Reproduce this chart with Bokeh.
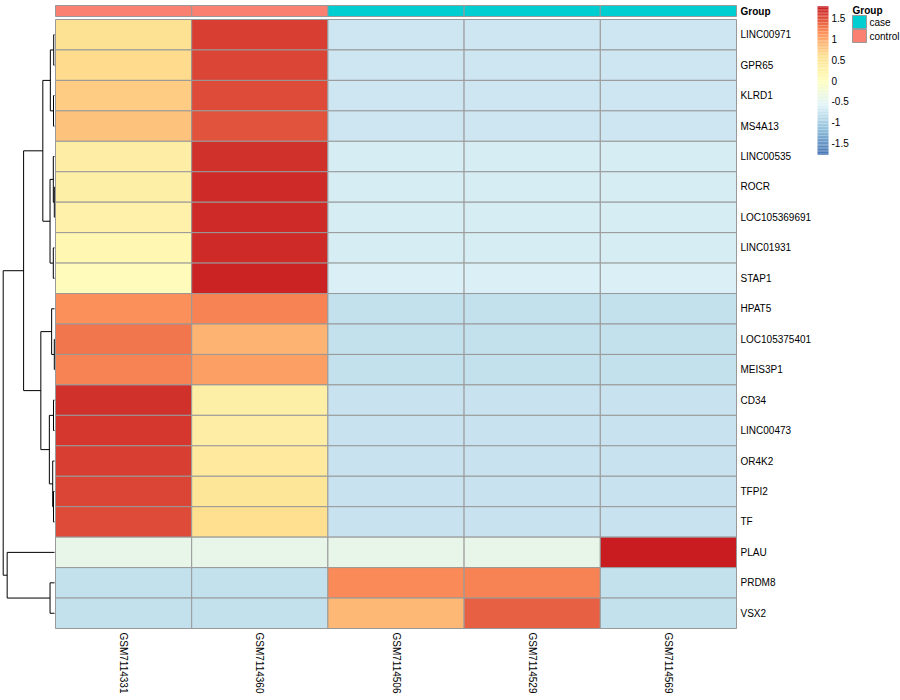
import numpy as np
from bokeh.plotting import figure
from bokeh.models import Range1d, ColumnDataSource
from bokeh.core.properties import value
from bokeh.embed import file_html
from bokeh.resources import INLINE

# ---------------- data ----------------
genes = ["LINC00971", "GPR65", "KLRD1", "MS4A13", "LINC00535", "ROCR",
         "LOC105369691", "LINC01931", "STAP1", "HPAT5", "LOC105375401",
         "MEIS3P1", "CD34", "LINC00473", "OR4K2", "TFPI2", "TF", "PLAU",
         "PRDM8", "VSX2"]
samples = ["GSM7114331", "GSM7114360", "GSM7114506", "GSM7114529", "GSM7114569"]
groups = ["control", "control", "case", "case", "case"]

# row-scaled (z-score) values per sample, in gene order above
GSM7114331 = [0.55, 0.62, 0.72, 0.82, 0.33, 0.30, 0.26, 0.16, 0.06, 1.15,
              1.32, 1.25, 1.65, 1.63, 1.60, 1.57, 1.52, -0.45, -0.82, -0.82]
GSM7114360 = [1.60, 1.57, 1.53, 1.47, 1.68, 1.69, 1.69, 1.70, 1.72, 1.25,
              0.92, 1.05, 0.30, 0.34, 0.42, 0.50, 0.58, -0.45, -0.82, -0.82]
GSM7114506 = [-0.73, -0.73, -0.74, -0.75, -0.67, -0.66, -0.66, -0.65, -0.63, -0.80,
              -0.80, -0.80, -0.76, -0.76, -0.76, -0.76, -0.76, -0.45, 1.20, 0.88]
GSM7114529 = [-0.73, -0.73, -0.74, -0.75, -0.67, -0.66, -0.66, -0.65, -0.61, -0.80,
              -0.80, -0.80, -0.76, -0.76, -0.76, -0.76, -0.76, -0.45, 1.23, 1.42]
GSM7114569 = [-0.73, -0.73, -0.74, -0.75, -0.67, -0.66, -0.66, -0.65, -0.63, -0.80,
              -0.80, -0.80, -0.76, -0.76, -0.76, -0.76, -0.76, 1.79, -0.82, -0.82]

# row clustering (a, b, height); new clusters numbered from 20
linkage = [(5, 6, 0.2), (10, 11, 0.2), (0, 1, 0.8), (2, 3, 1.0), (12, 13, 1.0),
           (15, 16, 1.0), (4, 20, 1.2), (7, 8, 1.2), (14, 25, 1.8), (9, 21, 2.9),
           (22, 23, 4.2), (26, 27, 4.5), (18, 19, 4.5), (24, 28, 5.2),
           (30, 31, 11.8), (29, 33, 13.8), (34, 35, 31.2), (17, 32, 47.8),
           (36, 37, 51.8)]

legend_ticks = [-1.5, -1.0, -0.5, 0.0, 0.5, 1.0, 1.5]
legend_tick_labels = ["-1.5", "-1", "-0.5", "0", "0.5", "1", "1.5"]
group_colors = {"case": "#00CED1", "control": "#FA8072"}
anchor_colors = ["#4575B4", "#91BFDB", "#E0F3F8", "#FFFFBF", "#FEE090", "#FC8D59", "#C81C21"]

# ---------------- palette / breaks ----------------
def hex2rgb(h):
    return np.array([int(h[i:i + 2], 16) for i in (1, 3, 5)], dtype=float)

anch = np.array([hex2rgb(c) for c in anchor_colors])
pos = np.linspace(0, 1, len(anchor_colors))
palette = []
for tt in np.linspace(0, 1, 100):
    rgb = [np.interp(tt, pos, anch[:, k]) for k in range(3)]
    palette.append("#%02X%02X%02X" % tuple(int(round(v)) for v in rgb))

mat = np.array([GSM7114331, GSM7114360, GSM7114506, GSM7114529, GSM7114569]).T
lim = np.max(np.abs(mat))
breaks = np.linspace(-lim, lim, 101)

def colour_of(v):
    idx = int(np.searchsorted(breaks, v, side="left")) - 1
    return palette[min(max(idx, 0), 99)]

# ---------------- layout geometry (page px) ----------------
W, H = 900, 700
HM_L, COL_W = 55, 136.2
HM_T, ROW_H = 19, 30.45

def X(ax):
    return (ax - HM_L) / COL_W

def Y(ay):
    return (ay - HM_T) / ROW_H

p = figure(width=W, height=H, output_backend="svg", toolbar_location=None,
           x_range=Range1d(X(0), X(W)), y_range=Range1d(Y(H), Y(0)),
           min_border=0)
p.axis.visible = False
p.grid.visible = False
p.outline_line_color = None
p.background_fill_color = "white"
p.border_fill_color = "white"

FONT = value("Liberation Sans")
nrow, ncol = len(genes), len(samples)
HM_R = HM_L + ncol * COL_W

# ---------------- heatmap ----------------
hl, hr, ht, hb, hc = [], [], [], [], []
for j in range(ncol):
    for i in range(nrow):
        hl.append(j); hr.append(j + 1); ht.append(i); hb.append(i + 1)
        hc.append(colour_of(mat[i, j]))
p.quad(source=ColumnDataSource(dict(l=hl, r=hr, t=ht, b=hb, c=hc)),
       left="l", right="r", top="t", bottom="b", fill_color="c",
       line_color="#999999", line_width=1)

# ---------------- annotation bar ----------------
ann_src = ColumnDataSource(dict(l=list(range(ncol)), r=[j + 1 for j in range(ncol)],
                                c=[group_colors[g] for g in groups]))
p.quad(source=ann_src, left="l", right="r", top=Y(5), bottom=Y(16),
       fill_color="c", line_color="#999999", line_width=1)
p.text(x=[X(HM_R + 4)], y=[Y(10.5)], text=["Group"],
       text_font=FONT, text_font_size="10px", text_font_style="bold",
       text_align="left", text_baseline="middle", text_color="black")

# ---------------- row / column labels ----------------
p.text(x=[X(HM_R + 4)] * nrow, y=[i + 0.5 for i in range(nrow)],
       text=genes, text_font=FONT, text_font_size="10px",
       text_align="left", text_baseline="middle", text_color="black")
p.text(x=[j + 0.5 for j in range(ncol)], y=[Y(HM_T + nrow * ROW_H + 4)] * ncol,
       text=samples, angle=-np.pi / 2, text_font=FONT, text_font_size="10px",
       text_align="left", text_baseline="middle", text_color="black")

# ---------------- row dendrogram ----------------
LEAF_X, ROOT_X = 54.0, 2.7
hmax = max(h for _, _, h in linkage)

def hx(h):
    return X(LEAF_X - h * (LEAF_X - ROOT_X) / hmax)

ypos = {i: i + 0.5 for i in range(nrow)}
hgt = {i: 0.0 for i in range(nrow)}
xs, ys = [], []
for k, (a, b, h) in enumerate(linkage):
    cid = nrow + k
    ya, yb = ypos[a], ypos[b]
    xs.append([hx(hgt[a]), hx(h), hx(h), hx(hgt[b])])
    ys.append([ya, ya, yb, yb])
    ypos[cid] = (ya + yb) / 2
    hgt[cid] = h
p.multi_line(xs=xs, ys=ys, line_color="black", line_width=1)

# ---------------- colour legend ----------------
ZERO_Y, PX_PER_UNIT = 80.0, 41.5
CB_L, CB_R = 817, 828

def vy(v):
    return Y(ZERO_Y - v * PX_PER_UNIT)

p.quad(left=X(CB_L), right=X(CB_R), top=[vy(b) for b in breaks[1:]],
       bottom=[vy(b) for b in breaks[:-1]], fill_color=palette, line_color=None)
p.text(x=[X(CB_R + 3)] * len(legend_ticks), y=[vy(v) for v in legend_ticks],
       text=legend_tick_labels, text_font=FONT, text_font_size="10px",
       text_align="left", text_baseline="middle", text_color="black")

# ---------------- group legend ----------------
gnames = ["case", "control"]
p.text(x=[X(852)], y=[Y(10)], text=["Group"], text_font=FONT, text_font_size="10px",
       text_font_style="bold", text_align="left", text_baseline="middle")
p.quad(left=X(852), right=X(866), top=[Y(15 + 14 * k) for k in range(2)],
       bottom=[Y(28 + 14 * k) for k in range(2)],
       fill_color=[group_colors[g] for g in gnames], line_color="#999999", line_width=1)
p.text(x=[X(869)] * 2, y=[Y(21.5 + 14 * k) for k in range(2)], text=gnames,
       text_font=FONT, text_font_size="10px", text_align="left", text_baseline="middle")

open("out.html", "w").write(file_html(p, INLINE))
